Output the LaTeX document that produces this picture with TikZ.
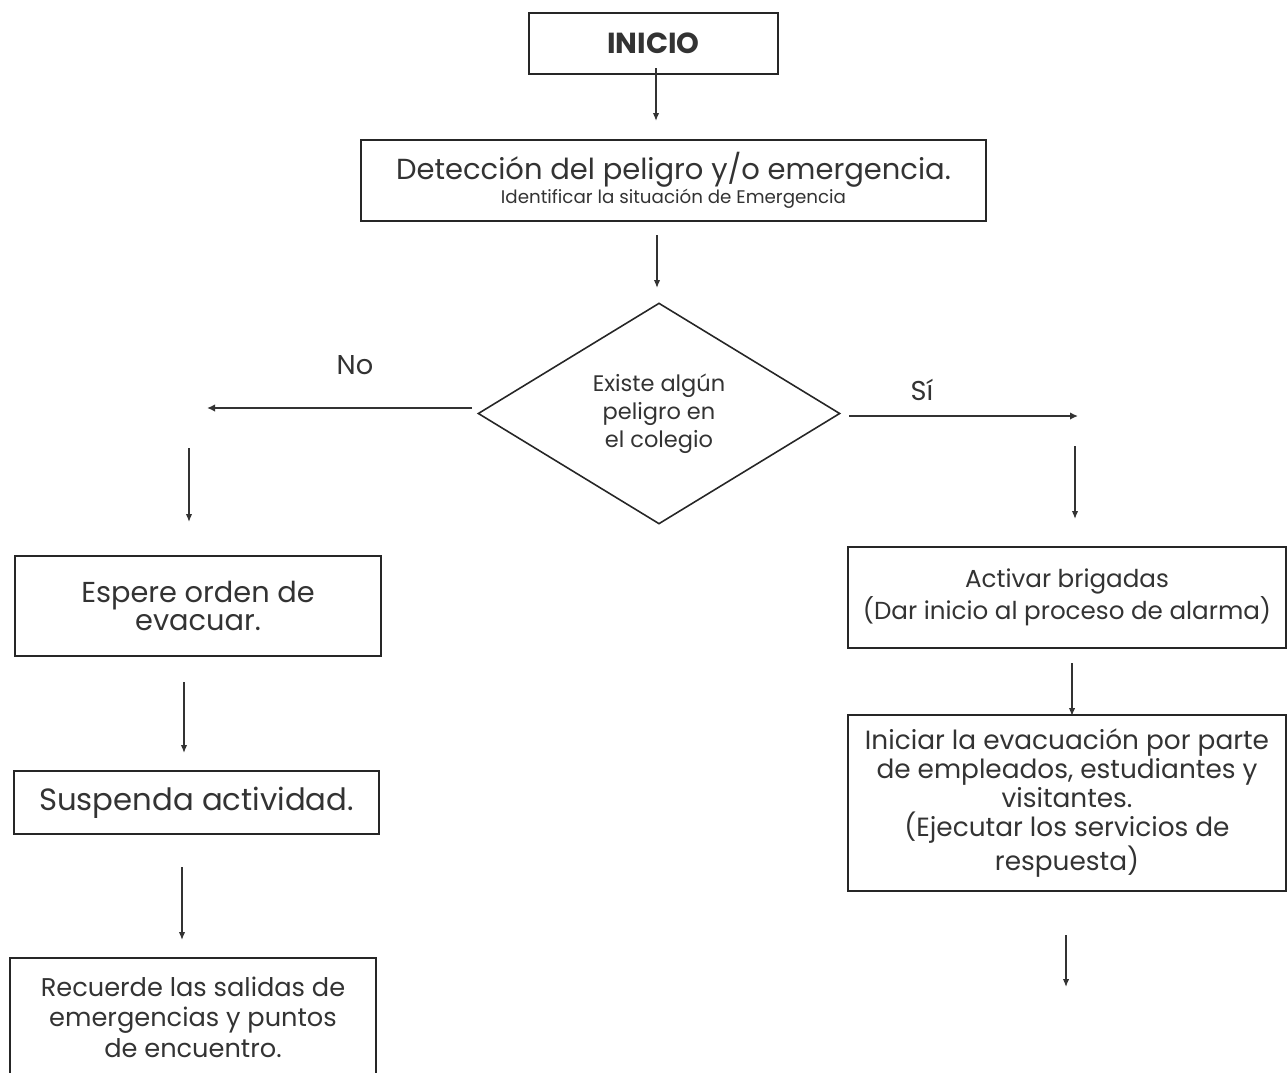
\documentclass[tikz,border=0pt]{standalone}
\usepackage{fontspec}
\setmainfont{Poppins}
\usetikzlibrary{positioning, arrows.meta, shapes.geometric}

\begin{document}
\begin{tikzpicture}[
    x=0.02cm, y=-0.02cm,
    box/.style={draw=black!85, line width=1.1pt, align=center, text=black!80, inner sep=0pt},
    decision/.style={diamond, draw=black!85, line width=0.9pt, align=center, text=black!80, inner sep=0pt},
    arrow/.style={-{Latex[length=1.6mm, width=1.3mm]}, draw=black!80, line width=0.8pt},
    harrow/.style={-{Latex[length=1.6mm, width=1.5mm]}, draw=black!80, line width=1.6pt},
    label/.style={font=\fontsize{15.5}{18}\selectfont, text=black!80}
]
    \useasboundingbox (0,0) rectangle (1288,1072);

    % Top of the chart
    \node[box, minimum width=4.98cm, minimum height=1.22cm, font=\bfseries\fontsize{16.5}{18}\selectfont]
        (inicio) at (653.5,43.5) {INICIO};
    \node[box, minimum width=12.5cm, minimum height=1.62cm]
        (deteccion) at (673.5,180.5)
        {{\fontsize{16.5}{19}\selectfont Detección del peligro y/o emergencia.}\\[0pt]
         {\fontsize{10.4}{12}\selectfont Identificar la situación de Emergencia}};

    % Decision
    \node[decision, minimum width=7.24cm, minimum height=4.42cm, font=\fontsize{12.8}{15.9}\selectfont]
        (peligro) at (659,413.5) {Existe algún\\peligro en\\el colegio};

    % Left branch (No)
    \node[box, minimum width=7.32cm, minimum height=2.0cm, font=\fontsize{16.4}{15.9}\selectfont]
        (espere) at (198,606) {Espere orden de\\evacuar.};
    \node[box, minimum width=7.3cm, minimum height=1.26cm, font=\fontsize{17.5}{19}\selectfont]
        (suspenda) at (196.5,802.5) {Suspenda actividad.};
    \node[box, minimum width=7.32cm, minimum height=2.36cm, font=\fontsize{14.6}{17.3}\selectfont]
        (recuerde) at (193,1017) {Recuerde las salidas de\\emergencias y puntos\\de encuentro.};

    % Right branch (Sí)
    \node[box, minimum width=8.76cm, minimum height=2.02cm, font=\fontsize{14}{16.4}\selectfont]
        (activar) at (1067,597.5) {Activar brigadas\\(Dar inicio al proceso de alarma)};
    \node[box, minimum width=8.76cm, minimum height=3.52cm, font=\fontsize{15}{16.5}\selectfont]
        (iniciar) at (1067,803)
        {Iniciar la evacuación por parte\\de empleados, estudiantes y\\visitantes.\\(Ejecutar los servicios de\\respuesta)};

    % Branch labels
    \node[label] (no) at (355,365) {No};
    \node[label] (si) at (922,390) {Sí};

    % Arrow ends
    \coordinate (a1s) at (656,68);   \coordinate (a1e) at (656,121);
    \coordinate (a2s) at (657,235);  \coordinate (a2e) at (657,288);
    \coordinate (nos) at (472,408);  \coordinate (noe) at (207,408);
    \coordinate (sis) at (849,416);  \coordinate (sie) at (1078,416);
    \coordinate (l1s) at (189,448);  \coordinate (l1e) at (189,522);
    \coordinate (l2s) at (184,682);  \coordinate (l2e) at (184,753);
    \coordinate (l3s) at (182,867);  \coordinate (l3e) at (182,940);
    \coordinate (r1s) at (1075,446); \coordinate (r1e) at (1075,519);
    \coordinate (r2s) at (1072,663); \coordinate (r2e) at (1072,716);
    \coordinate (r3s) at (1066,935); \coordinate (r3e) at (1066,987);

    % Arrows
    \draw[arrow] (a1s) -- (a1e);
    \draw[arrow] (a2s) -- (a2e);
    \draw[harrow] (nos) -- (noe);
    \draw[harrow] (sis) -- (sie);
    \draw[arrow] (l1s) -- (l1e);
    \draw[arrow] (l2s) -- (l2e);
    \draw[arrow] (l3s) -- (l3e);
    \draw[arrow] (r1s) -- (r1e);
    \draw[arrow] (r2s) -- (r2e);
    \draw[arrow] (r3s) -- (r3e);

\end{tikzpicture}
\end{document}
